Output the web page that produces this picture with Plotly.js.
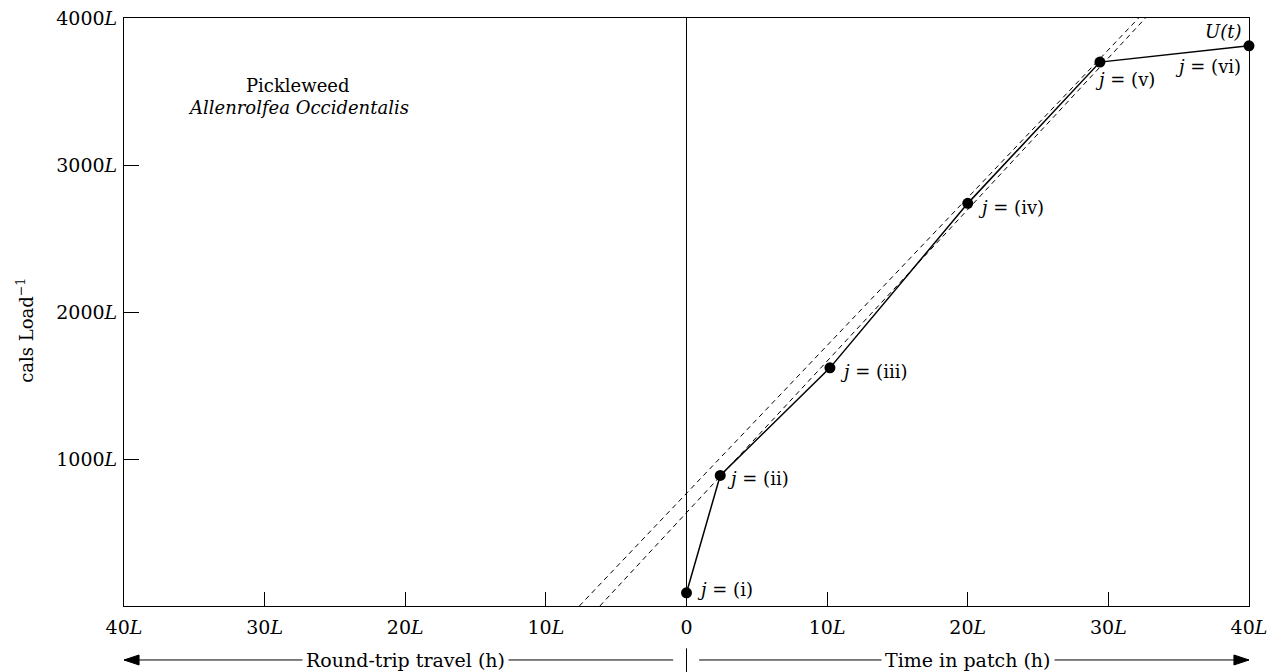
<!DOCTYPE html>
<html>
<head>
<meta charset="utf-8">
<script src="https://cdn.plot.ly/plotly-3.0.1.min.js"></script>
<style>
html,body{margin:0;padding:0;background:#fff;}
#chart{width:1275px;height:672px;}
</style>
</head>
<body>
<div id="chart"></div>
<script>
// ---- data ----
var gainX = [0, 2.4, 10.2, 20.0, 29.4, 40.0];
var gainY = [90, 888, 1620, 2739, 3700, 3811];
var gainLabels = ['(i)', '(ii)', '(iii)', '(iv)', '(v)', '(vi)'];

var tangent1X = [-7.62, 32.15];
var tangent1Y = [0, 4000];
var tangent2X = [-6.16, 32.64];
var tangent2Y = [0, 4000];

var xTickVals = [-40, -30, -20, -10, 0, 10, 20, 30, 40];
var xTickText = ['40<i>L</i>', '30<i>L</i>', '20<i>L</i>', '10<i>L</i>', '0', '10<i>L</i>', '20<i>L</i>', '30<i>L</i>', '40<i>L</i>'];
var yTickVals = [1000, 2000, 3000, 4000];
var yTickText = ['1000<i>L</i>', '2000<i>L</i>', '3000<i>L</i>', '4000<i>L</i>'];

var FONT = 'DejaVu Serif, Liberation Serif, serif';

var traces = [
  {x: tangent1X, y: tangent1Y, mode: 'lines', line: {color: '#000', width: 1, dash: '5px,4px'}, hoverinfo: 'skip'},
  {x: tangent2X, y: tangent2Y, mode: 'lines', line: {color: '#000', width: 1, dash: '5px,4px'}, hoverinfo: 'skip'},
  {x: [0, 0], y: [0, 4000], mode: 'lines', line: {color: '#000', width: 1}, hoverinfo: 'skip'},
  {x: gainX, y: gainY, mode: 'lines+markers', line: {color: '#000', width: 1.5},
   marker: {color: '#000', size: 11}, cliponaxis: false}
];

// label offsets (pixels) for each point label
var labelOffsets = [
  {xanchor: 'left', xshift: 8, yshift: 3},
  {xanchor: 'left', xshift: 5, yshift: -3},
  {xanchor: 'left', xshift: 8, yshift: -4},
  {xanchor: 'left', xshift: 8, yshift: -4},
  {xanchor: 'left', xshift: -7, yshift: -17},
  {xanchor: 'right', xshift: -6, yshift: -21}
];

var annotations = [];
for (var i = 0; i < gainX.length; i++) {
  annotations.push({
    x: gainX[i], y: gainY[i], xref: 'x', yref: 'y',
    text: '<i>j</i> = ' + gainLabels[i], showarrow: false,
    xanchor: labelOffsets[i].xanchor, yanchor: 'middle',
    xshift: labelOffsets[i].xshift, yshift: labelOffsets[i].yshift,
    font: {family: FONT, size: 18, color: '#000'}
  });
}
annotations.push({
  x: gainX[5], y: gainY[5], xref: 'x', yref: 'y', text: '<i>U(t)</i>', showarrow: false,
  xanchor: 'right', yanchor: 'middle', xshift: -6, yshift: 14,
  font: {family: FONT, size: 18, color: '#000'}
});
annotations.push({
  x: -27.6, y: 3538, xref: 'x', yref: 'y', text: 'Pickleweed', showarrow: false,
  xanchor: 'center', yanchor: 'middle', font: {family: FONT, size: 18, color: '#000'}
});
annotations.push({
  x: -27.6, y: 3390, xref: 'x', yref: 'y', text: '<i>Allenrolfea Occidentalis</i>', showarrow: false,
  xanchor: 'center', yanchor: 'middle', font: {family: FONT, size: 18, color: '#000'}
});
annotations.push({
  x: -0.088, y: 0.468, xref: 'paper', yref: 'paper', text: 'cals Load<sup>−1</sup>', showarrow: false,
  textangle: -90, xanchor: 'center', yanchor: 'middle', font: {family: FONT, size: 18, color: '#000'}
});
annotations.push({
  x: -20, y: -0.0918, xref: 'x', yref: 'paper', text: 'Round-trip travel (h)', showarrow: false,
  xanchor: 'center', yanchor: 'middle', bgcolor: '#fff', borderpad: 3,
  font: {family: FONT, size: 19, color: '#000'}
});
annotations.push({
  x: 20, y: -0.0918, xref: 'x', yref: 'paper', text: 'Time in patch (h)', showarrow: false,
  xanchor: 'center', yanchor: 'middle', bgcolor: '#fff', borderpad: 3,
  font: {family: FONT, size: 19, color: '#000'}
});

var yA = -0.0918, hA = 0.0085;
var shapes = [
  {type: 'line', xref: 'x', yref: 'paper', x0: -40, x1: -0.95, y0: yA, y1: yA, line: {color: '#000', width: 1}},
  {type: 'line', xref: 'x', yref: 'paper', x0: 0.9, x1: 40, y0: yA, y1: yA, line: {color: '#000', width: 1}},
  {type: 'line', xref: 'x', yref: 'paper', x0: 0, x1: 0, y0: -0.072, y1: -0.115, line: {color: '#000', width: 1}},
  {type: 'path', xref: 'x', yref: 'paper', fillcolor: '#000', line: {color: '#000', width: 1},
   path: 'M -40 ' + yA + ' L -38.93 ' + (yA + hA) + ' L -38.93 ' + (yA - hA) + ' Z'},
  {type: 'path', xref: 'x', yref: 'paper', fillcolor: '#000', line: {color: '#000', width: 1},
   path: 'M 40 ' + yA + ' L 38.93 ' + (yA + hA) + ' L 38.93 ' + (yA - hA) + ' Z'}
];

var layout = {
  width: 1275, height: 672,
  margin: {l: 124, r: 26, t: 18, b: 66, pad: 0},
  paper_bgcolor: '#fff', plot_bgcolor: '#fff',
  showlegend: false,
  font: {family: FONT, size: 19, color: '#000'},
  xaxis: {
    range: [-40, 40], tickmode: 'array', tickvals: xTickVals, ticktext: xTickText,
    ticks: 'inside', ticklen: 14, tickwidth: 1, tickcolor: '#000',
    showline: true, linecolor: '#000', linewidth: 1, mirror: true,
    showgrid: false, zeroline: false, fixedrange: true, ticklabelstandoff: 4,
    tickfont: {family: FONT, size: 19, color: '#000'}
  },
  yaxis: {
    range: [0, 4000], tickmode: 'array', tickvals: yTickVals, ticktext: yTickText,
    ticks: 'inside', ticklen: 15, tickwidth: 1, tickcolor: '#000',
    showline: true, linecolor: '#000', linewidth: 1, mirror: true,
    showgrid: false, zeroline: false, fixedrange: true, ticklabelstandoff: 2,
    tickfont: {family: FONT, size: 19, color: '#000'}
  },
  annotations: annotations,
  shapes: shapes
};

Plotly.newPlot('chart', traces, layout, {displayModeBar: false, staticPlot: true});
</script>
</body>
</html>
